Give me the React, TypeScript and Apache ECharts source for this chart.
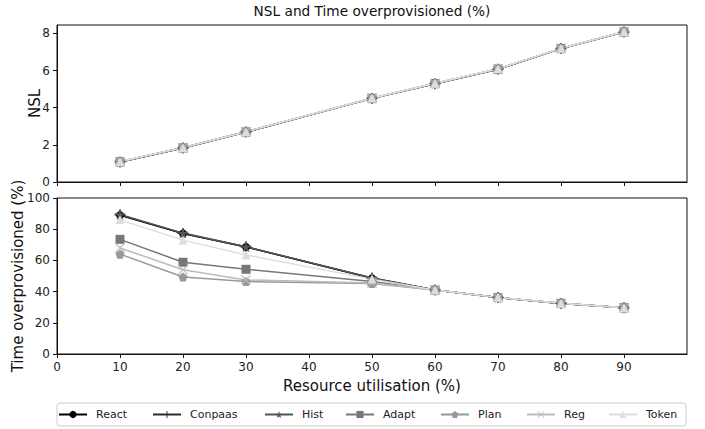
import React, { useEffect, useRef } from "react";
import * as echarts from "echarts";

const utilisation = [10, 20, 30, 50, 60, 70, 80, 90];
const seriesNames = ["React", "Conpaas", "Hist", "Adapt", "Plan", "Reg", "Token"];
const seriesColors = ["#000000", "#2b2b2b", "#555555", "#777777", "#999999", "#bbbbbb", "#dddddd"];

const nslReact = [1.08, 1.83, 2.69, 4.5, 5.29, 6.07, 7.18, 8.07];
const nslConpaas = [1.08, 1.83, 2.69, 4.5, 5.29, 6.07, 7.18, 8.07];
const nslHist = [1.09, 1.84, 2.7, 4.51, 5.3, 6.08, 7.19, 8.08];
const nslAdapt = [1.09, 1.84, 2.7, 4.51, 5.3, 6.08, 7.19, 8.08];
const nslPlan = [1.09, 1.84, 2.7, 4.51, 5.3, 6.08, 7.19, 8.08];
const nslReg = [1.09, 1.84, 2.7, 4.51, 5.3, 6.08, 7.19, 8.08];
const nslToken = [1.1, 1.85, 2.71, 4.52, 5.31, 6.09, 7.2, 8.09];

const overReact = [89, 77.2, 68.6, 48.6, 41, 36.2, 32.4, 29.6];
const overConpaas = [89.2, 77.3, 68.7, 48.7, 41, 36.2, 32.4, 29.6];
const overHist = [89.5, 77.5, 68.8, 48.8, 41, 36.2, 32.5, 29.7];
const overAdapt = [73.5, 58.8, 54.3, 46.5, 41, 36.2, 32.5, 29.7];
const overPlan = [64, 49.4, 46.4, 45.2, 41, 36.2, 32.5, 29.7];
const overReg = [68, 54, 47.5, 45.5, 41, 36.2, 32.5, 29.7];
const overToken = [86, 73, 63.5, 48, 41, 36.3, 32.5, 29.7];

const xTicks = [0, 10, 20, 30, 40, 50, 60, 70, 80, 90];
const nslTicks = [0, 2, 4, 6, 8];
const overTicks = [0, 20, 40, 60, 80, 100];

const nslData = [nslReact, nslConpaas, nslHist, nslAdapt, nslPlan, nslReg, nslToken];
const overData = [overReact, overConpaas, overHist, overAdapt, overPlan, overReg, overToken];

const symbols = [
  "circle",
  "path://M4.4,0H5.6V4.4H10V5.6H5.6V10H4.4V5.6H0V4.4H4.4Z",
  "path://M50,0L61,35H98L68,57L79,91L50,70L21,91L32,57L2,35H39Z",
  "rect",
  "path://M50,0L98,35L79,91H21L2,35Z",
  "path://M0,0.8L0.8,0L5,4.2L9.2,0L10,0.8L5.8,5L10,9.2L9.2,10L5,5.8L0.8,10L0,9.2L4.2,5Z",
  "triangle",
];
const symbolSizes = [8, 11, 11, 9, 9, 10, 9];
const legendLefts = [58, 152, 264, 345, 440, 526, 608];

const FONT = "DejaVu Sans";

export default function App() {
  const ref = useRef<HTMLDivElement>(null);
  useEffect(() => {
    if (!ref.current) return;
    const chart = echarts.init(ref.current, undefined, { renderer: "svg" });
    const axisLine = { show: true, lineStyle: { color: "#111", width: 1 } };
    const tickStyle = { show: true, length: 4, inside: false, lineStyle: { color: "#111" } };
    const labelStyle = { color: "#222", fontFamily: FONT, fontSize: 12, margin: 7 };
    const nameStyle = { fontFamily: FONT, fontSize: 15, color: "#111" };

    const series: any[] = [];
    seriesNames.forEach((name, i) => {
      series.push({
        name,
        type: "line",
        xAxisIndex: 0,
        yAxisIndex: 0,
        data: utilisation.map((x, j) => [x, nslData[i][j]]),
        symbol: symbols[i],
        symbolSize: symbolSizes[i],
        showAllSymbol: true,
        lineStyle: { color: seriesColors[i], width: 1.5 },
        itemStyle: { color: seriesColors[i] },
        emphasis: { disabled: true },
      });
      series.push({
        name,
        type: "line",
        xAxisIndex: 1,
        yAxisIndex: 1,
        data: utilisation.map((x, j) => [x, overData[i][j]]),
        symbol: symbols[i],
        symbolSize: symbolSizes[i],
        showAllSymbol: true,
        lineStyle: { color: seriesColors[i], width: 1.5 },
        itemStyle: { color: seriesColors[i] },
        emphasis: { disabled: true },
      });
    });

    const legends = seriesNames.map((name, i) => ({
      data: [name],
      left: legendLefts[i],
      top: 409,
      padding: 0,
      itemWidth: 28,
      itemHeight: 9,
      selectedMode: false,
      textStyle: { fontFamily: FONT, fontSize: 11, color: "#222", padding: [0, 0, 0, 4] },
    }));

    chart.setOption({
      animation: false,
      backgroundColor: "#ffffff",
      title: {
        text: "NSL and Time overprovisioned (%)",
        left: 372,
        textAlign: "center",
        top: 4,
        padding: 0,
        textStyle: { fontFamily: FONT, fontSize: 13.7, fontWeight: "normal", color: "#111" },
      },
      legend: legends,
      graphic: [
        {
          type: "rect",
          z: 0,
          shape: { x: 57, y: 403, width: 629, height: 23, r: 3 },
          style: { fill: "#ffffff", stroke: "#cccccc", lineWidth: 1 },
        },
      ],
      grid: [
        { left: 57, right: 18, top: 25, height: 157, show: true, borderColor: "#111", borderWidth: 1, backgroundColor: "transparent", outerBoundsMode: "none", containLabel: false },
        { left: 57, right: 18, top: 198, height: 156, show: true, borderColor: "#111", borderWidth: 1, backgroundColor: "transparent", outerBoundsMode: "none", containLabel: false },
      ],
      xAxis: [
        {
          type: "value",
          gridIndex: 0,
          min: 0,
          max: 100,
          interval: 10,
          axisLine,
          axisTick: { ...tickStyle, customValues: xTicks },
          axisLabel: { show: false },
          splitLine: { show: false },
        },
        {
          type: "value",
          gridIndex: 1,
          min: 0,
          max: 100,
          interval: 10,
          axisLine,
          axisTick: { ...tickStyle, customValues: xTicks },
          axisLabel: { ...labelStyle, customValues: xTicks },
          splitLine: { show: false },
          name: "Resource utilisation (%)",
          nameLocation: "middle",
          nameGap: 24,
          nameMoveOverlap: false,
          nameTextStyle: nameStyle,
        },
      ],
      yAxis: [
        {
          type: "value",
          gridIndex: 0,
          min: 0,
          max: 8.45,
          axisLine,
          axisTick: { ...tickStyle, customValues: nslTicks },
          axisLabel: { ...labelStyle, customValues: nslTicks },
          splitLine: { show: false },
          name: "NSL",
          nameLocation: "middle",
          nameGap: 15,
          nameMoveOverlap: false,
          nameTextStyle: nameStyle,
        },
        {
          type: "value",
          gridIndex: 1,
          min: 0,
          max: 100,
          interval: 20,
          axisLine,
          axisTick: { ...tickStyle, customValues: overTicks },
          axisLabel: { ...labelStyle, customValues: overTicks },
          splitLine: { show: false },
          name: "Time overprovisioned (%)",
          nameLocation: "middle",
          nameGap: 32,
          nameMoveOverlap: false,
          nameTextStyle: nameStyle,
        },
      ],
      series,
    });
    return () => chart.dispose();
  }, []);
  return (
    <div
      ref={ref}
      style={{ position: "fixed", left: 0, top: 0, width: 705, height: 429, background: "#fff" }}
    />
  );
}
